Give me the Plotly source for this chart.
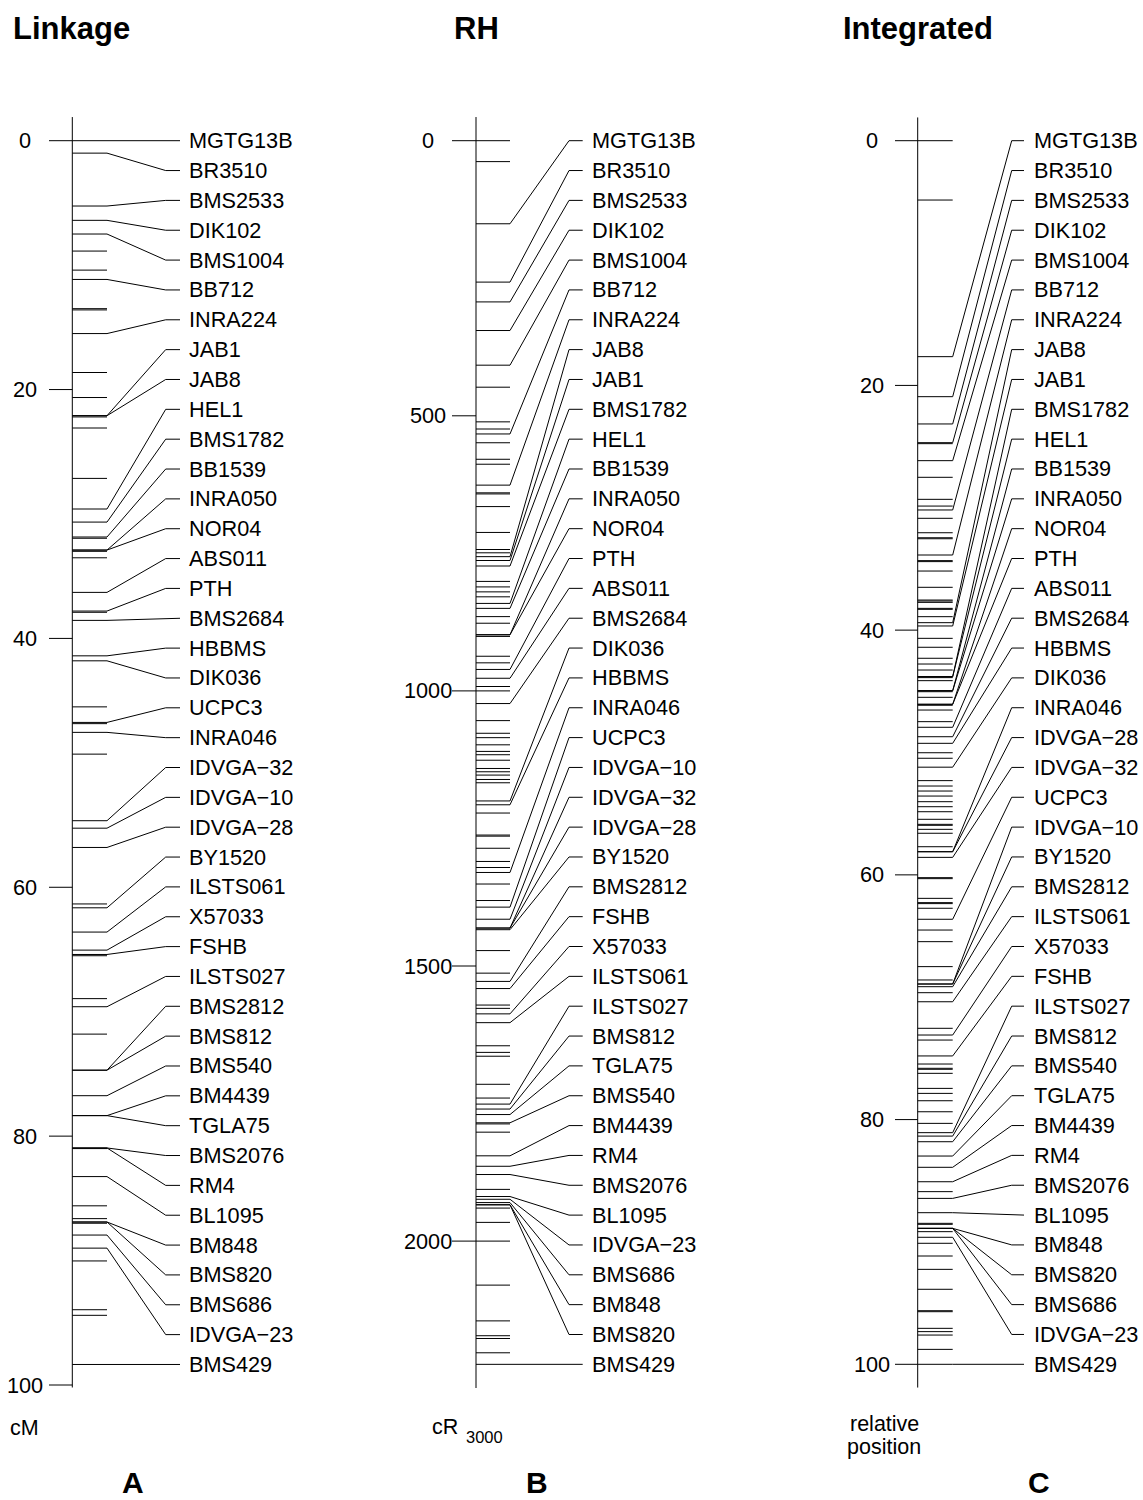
import numpy as np
import plotly.graph_objects as go

# ---------------- data ----------------
# Panel A: linkage map (cM)
labels_A = ["MGTG13B", "BR3510", "BMS2533", "DIK102", "BMS1004", "BB712", "INRA224",
            "JAB1", "JAB8", "HEL1", "BMS1782", "BB1539", "INRA050", "NOR04", "ABS011",
            "PTH", "BMS2684", "HBBMS", "DIK036", "UCPC3", "INRA046", "IDVGA\u221232",
            "IDVGA\u221210", "IDVGA\u221228", "BY1520", "ILSTS061", "X57033", "FSHB",
            "ILSTS027", "BMS2812", "BMS812", "BMS540", "BM4439", "TGLA75", "BMS2076",
            "RM4", "BL1095", "BM848", "BMS820", "BMS686", "IDVGA\u221223", "BMS429"]
pos_A = [0, 1.0, 5.25, 6.4, 7.5, 11.15, 15.5, 22.1, 22.1, 29.6, 30.65, 31.85, 32.9,
         32.9, 36.3, 37.8, 38.55, 41.4, 41.8, 46.75, 47.55, 54.65, 55.25, 56.8, 61.65,
         63.6, 65.05, 65.4, 69.6, 74.7, 74.7, 76.75, 78.35, 78.35, 80.95, 80.95, 83.25,
         86.9, 86.9, 87.95, 89.0, 98.35]
other_A = [8.87, 10.4, 13.5, 13.6, 18.63, 20.64, 22.2, 23.09, 27.14, 31.95, 33.0,
           33.52, 37.9, 45.5, 46.85, 49.3, 61.34, 65.5, 68.95, 71.8, 81.0, 85.6,
           86.63, 87.0, 90.03, 93.95, 94.4]
ticks_A = [0, 20, 40, 60, 80, 100]

# Panel B: RH map (cR3000)
labels_B = ["MGTG13B", "BR3510", "BMS2533", "DIK102", "BMS1004", "BB712", "INRA224",
            "JAB8", "JAB1", "BMS1782", "HEL1", "BB1539", "INRA050", "NOR04", "PTH",
            "ABS011", "BMS2684", "DIK036", "HBBMS", "INRA046", "UCPC3", "IDVGA\u221210",
            "IDVGA\u221232", "IDVGA\u221228", "BY1520", "BMS2812", "FSHB", "X57033",
            "ILSTS061", "ILSTS027", "BMS812", "TGLA75", "BMS540", "BM4439", "RM4",
            "BMS2076", "BL1095", "IDVGA\u221223", "BMS686", "BM848", "BMS820", "BMS429"]
pos_B = [151, 257, 293, 345, 408, 533, 626, 756, 763, 773, 841, 850, 898, 898, 961,
         977, 1023, 1200, 1207, 1330, 1393, 1415, 1431, 1431, 1434, 1528, 1541, 1587,
         1603, 1751, 1760, 1770, 1785, 1845, 1864, 1879, 1919, 1924, 1930, 1934, 1934,
         2224]
other_B = [0, 38, 448, 511, 524, 549, 579, 588, 640, 642, 665, 712, 743, 749, 801,
           811, 820, 829, 865, 877, 901, 937, 949, 992, 1000, 1054, 1077, 1085, 1098,
           1110, 1116, 1126, 1141, 1147, 1153, 1161, 1167, 1222, 1262, 1264, 1286,
           1310, 1321, 1351, 1381, 1472, 1513, 1571, 1577, 1645, 1657, 1664, 1715,
           1740, 1787, 1802, 1906, 1940, 1966, 2000, 2080, 2145, 2172, 2177, 2203]
ticks_B = [0, 500, 1000, 1500, 2000]

# Panel C: integrated map (relative position)
labels_C = ["MGTG13B", "BR3510", "BMS2533", "DIK102", "BMS1004", "BB712", "INRA224",
            "JAB8", "JAB1", "BMS1782", "HEL1", "BB1539", "INRA050", "NOR04", "PTH",
            "ABS011", "BMS2684", "HBBMS", "DIK036", "INRA046", "IDVGA\u221228",
            "IDVGA\u221232", "UCPC3", "IDVGA\u221210", "BY1520", "BMS2812", "ILSTS061",
            "X57033", "FSHB", "ILSTS027", "BMS812", "BMS540", "TGLA75", "BM4439", "RM4",
            "BMS2076", "BL1095", "BM848", "BMS820", "BMS686", "IDVGA\u221223", "BMS429"]
pos_C = [17.65, 20.92, 23.15, 24.68, 26.15, 30.18, 33.86, 39.39, 39.66, 43.8, 43.8,
         44.95, 44.95, 46.06, 46.06, 47.94, 48.71, 49.25, 51.2, 58.11, 58.11, 58.57,
         63.63, 68.92, 68.92, 69.14, 70.37, 73.09, 74.8, 81.07, 81.35, 81.81, 82.98,
         83.9, 85.08, 86.44, 87.61, 88.89, 88.89, 88.89, 89.62, 100]
other_C = [0, 4.85, 24.76, 27.51, 29.31, 29.86, 30.86, 32.04, 32.45, 32.53, 34.32,
           34.4, 35.17, 36.5, 37.54, 37.62, 37.73, 38.22, 38.3, 38.9, 40.67, 41.4,
           42.3, 42.77, 43.26, 43.88, 44.13, 45.03, 45.49, 46.14, 46.53, 47.48, 50.02,
           50.47, 52.3, 52.74, 53.15, 53.56, 54.02, 54.43, 54.84, 55.46, 55.87, 55.95,
           56.28, 56.6, 57.7, 60.23, 60.31, 61.92, 62.27, 62.35, 62.73, 64.51, 65.46,
           67.5, 68.59, 69.63, 72.54, 73.5, 75.46, 75.81, 75.89, 76.22, 77.45, 77.86,
           78.46, 79.36, 80.31, 85.89, 88.48, 88.56, 89.16, 90.11, 91.15, 92.24, 93.87,
           95.62, 95.7, 97.06, 97.33, 97.61, 98.78]
ticks_C = [0, 20, 40, 60, 80, 100]

titles = ["Linkage", "RH", "Integrated"]
letters = ["A", "B", "C"]

# ---------------- layout geometry (screen pixels) ----------------
W, H = 1143, 1500
FONT = "Liberation Sans, Arial, Helvetica, sans-serif"
LAB = 21.7


def px(xs):
    return xs / W


def py(ys):
    return 1 - ys / H


panels = [
    dict(labels=labels_A, pos=pos_A, other=other_A, ticks=ticks_A, y0=140.7, k=12.443,
         ax=72.3, mend=107, cend=165.7, lend=180, tx=187.5, tstart=49, tlx=25,
         arange=(-1.9, 100.2), yref="y", title_x=71, letter_x=133),
    dict(labels=labels_B, pos=pos_B, other=other_B, ticks=ticks_B, y0=140.7, k=0.5502,
         ax=476, mend=510, cend=569, lend=582.7, tx=591, tstart=452, tlx=428,
         arange=(-43, 2267), yref="y2", title_x=476, letter_x=537),
    dict(labels=labels_C, pos=pos_C, other=other_C, ticks=ticks_C, y0=140.7, k=12.236,
         ax=917.7, mend=952.7, cend=1011.7, lend=1024, tx=1032.5, tstart=895, tlx=871.5,
         arange=(-1.9, 101.9), yref="y3", title_x=918, letter_x=1039),
]

fig = go.Figure()
annotations = []
line_style = dict(color="black", width=1)


def note(x, y, text, size, xanchor="center", yanchor="middle", bold=False,
         xref="paper", yref="paper"):
    annotations.append(dict(x=x, y=y, xref=xref, yref=yref,
                            text=("<b>%s</b>" % text) if bold else text,
                            showarrow=False, xanchor=xanchor, yanchor=yanchor,
                            borderpad=0,
                            font=dict(size=size, family=FONT, color="black")))


for i, p in enumerate(panels):
    yax = p["yref"]
    # axis line
    fig.add_trace(go.Scatter(x=[p["ax"], p["ax"]], y=list(p["arange"]), mode="lines",
                             line=line_style, yaxis=yax, hoverinfo="skip"))
    # ticks
    xs, ys = [], []
    for t in p["ticks"]:
        xs += [p["tstart"], p["ax"], None]
        ys += [t, t, None]
        note(p["tlx"], t, str(t), LAB, xref="x", yref=yax)
    fig.add_trace(go.Scatter(x=xs, y=ys, mode="lines", line=line_style, yaxis=yax,
                             hoverinfo="skip"))
    # marker lines (all loci)
    xs, ys = [], []
    for v in list(p["pos"]) + list(p["other"]):
        xs += [p["ax"], p["mend"], None]
        ys += [v, v, None]
    fig.add_trace(go.Scatter(x=xs, y=ys, mode="lines", line=line_style, yaxis=yax,
                             hoverinfo="skip"))
    # connectors to evenly spaced labels
    n = len(p["labels"])
    lab_y = np.linspace(0, p["pos"][-1], n)
    xs, ys = [], []
    for v, ly, name in zip(p["pos"], lab_y, p["labels"]):
        xs += [p["mend"], p["cend"], p["lend"], None]
        ys += [v, ly, ly, None]
        note(p["tx"], ly, name, LAB, xanchor="left", xref="x", yref=yax)
    fig.add_trace(go.Scatter(x=xs, y=ys, mode="lines", line=line_style, yaxis=yax,
                             hoverinfo="skip"))
    # titles and panel letters
    note(px(p["title_x"]), py(28), titles[i], 31, bold=True)
    note(px(p["letter_x"]), py(1500), letters[i], 30, yanchor="bottom", bold=True)

# axis unit captions
note(px(24), py(1428), "cM", 21.5)
note(px(445), py(1427), "cR", 21.5)
note(px(484), py(1437), "3000", 16.5)
note(px(884), py(1424), "relative", 21.5)
note(px(884), py(1447), "position", 21.5)

layout = dict(
    width=W, height=H, margin=dict(l=0, r=0, t=0, b=0),
    paper_bgcolor="white", plot_bgcolor="white", showlegend=False,
    xaxis=dict(range=[0, W], visible=False, fixedrange=True),
    annotations=annotations,
)
for i, p in enumerate(panels):
    rng = [(H - p["y0"]) / p["k"], -p["y0"] / p["k"]]
    key = "yaxis" if i == 0 else "yaxis%d" % (i + 1)
    ax = dict(range=rng, visible=False, domain=[0, 1], fixedrange=True)
    if i > 0:
        ax["overlaying"] = "y"
    layout[key] = ax
fig.update_layout(**layout)
fig.write_html("out.html", config={"displayModeBar": False},
               post_script="document.body.style.margin='0px';"
                           "document.body.style.overflow='hidden';")
